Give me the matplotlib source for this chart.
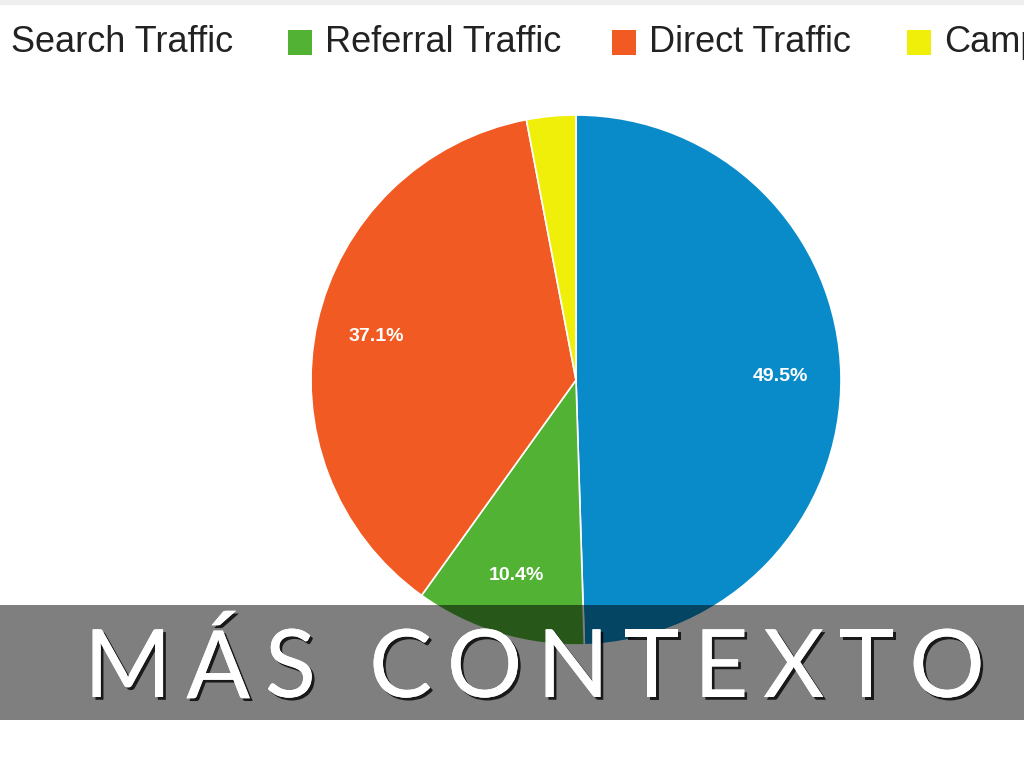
import matplotlib.pyplot as plt
import matplotlib.patheffects as pe
from matplotlib.patches import Rectangle

# datos
categorias = ['Search Traffic', 'Referral Traffic', 'Direct Traffic', 'Campaigns']
valores = [49.5, 10.4, 37.1, 3.0]
colores = ['#0a8bc9', '#52b234', '#f15a22', '#efef0a']
titulo = 'MÁS CONTEXTO'

W, H = 1024, 768
fig = plt.figure(figsize=(W / 100, H / 100), dpi=100)

# pie: centro (576, 380) px, radio 265 px
cx, cy, r = 576, 380, 265
ax = fig.add_axes([(cx - r) / W, (H - cy - r) / H, 2 * r / W, 2 * r / H])
wedges, texts, autotexts = ax.pie(
    valores, colors=colores, startangle=90, counterclock=False,
    autopct=lambda p: f'{p:.1f}%' if p > 5 else '', pctdistance=0.77,
    wedgeprops=dict(edgecolor='white', linewidth=1.2))
for t in autotexts:
    t.set_color('white')
    t.set_fontsize(14)
    t.set_fontweight('bold')
    t.set_family('Liberation Sans')
ax.set_xlim(-1, 1)
ax.set_ylim(-1, 1)
ax.set_aspect('equal')
ax.axis('off')

# leyenda (cortada a la izquierda y a la derecha, como en la captura)
leg_x = [-26, 288, 612, 907]
leg_y = 42
for x, nombre, c in zip(leg_x, categorias, colores):
    fig.patches.append(Rectangle((x / W, 1 - 55 / H), 24 / W, 25 / H,
                                 transform=fig.transFigure, color=c, lw=0))
    fig.text((x + 37) / W, 1 - leg_y / H, nombre, fontsize=26,
             family='Liberation Sans', color='#222222', va='center')

# franja gris arriba
fig.patches.append(Rectangle((0, 1 - 5 / H), 1, 5 / H,
                             transform=fig.transFigure, color='#eeeeee', lw=0))

# banda oscura con el titulo
fig.patches.append(Rectangle((0, 1 - 720 / H), 1, 115 / H,
                             transform=fig.transFigure, facecolor='black',
                             alpha=0.5, lw=0, zorder=2))

# titulo con espaciado entre letras
x0, x1, ty = 84, 985, 671
sombra = [pe.withSimplePatchShadow(offset=(2, -2), shadow_rgbFace='black', alpha=0.8),
          pe.Normal()]
renderer = fig.canvas.get_renderer()
letras = []
for ch in titulo:
    t = fig.text(0, 1 - ty / H, ch, fontsize=68, family='Lato', color='white',
                 va='center', ha='left', zorder=4, path_effects=sombra)
    letras.append(t)
anchos = [t.get_window_extent(renderer).width if ch != ' ' else 24
          for t, ch in zip(letras, titulo)]
extra = (x1 - x0 - sum(anchos)) / (len(titulo) - 1)
x = x0
for t, w in zip(letras, anchos):
    t.set_x(x / W)
    x += w + extra

fig.savefig('out.png', dpi=100)
